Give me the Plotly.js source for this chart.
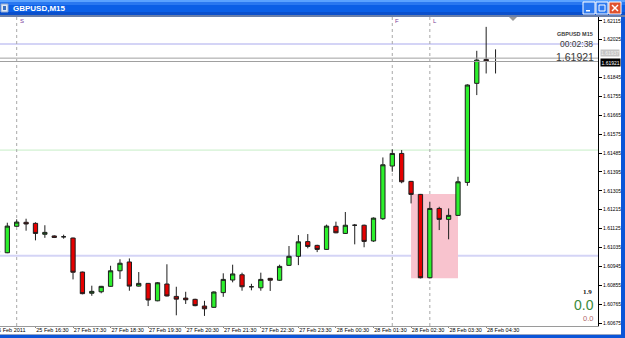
<!DOCTYPE html>
<html>
<head>
<meta charset="utf-8">
<script src="https://cdn.plot.ly/plotly-3.0.1.min.js"></script>
<style>
html,body{margin:0;padding:0;background:#fff;overflow:hidden;}
#chart{width:625px;height:338px;}
</style>
</head>
<body>
<div id="chart"></div>
<script>
// ---- data ----
const symbolTitle = "GBPUSD,M15";
const times = [
 "25 Feb 15:30","25 Feb 15:45","25 Feb 16:00","25 Feb 16:15","25 Feb 16:30","25 Feb 16:45",
 "27 Feb 17:00","27 Feb 17:15","27 Feb 17:30","27 Feb 17:45","27 Feb 18:00","27 Feb 18:15",
 "27 Feb 18:30","27 Feb 18:45","27 Feb 19:00","27 Feb 19:15","27 Feb 19:30","27 Feb 19:45",
 "27 Feb 20:00","27 Feb 20:15","27 Feb 20:30","27 Feb 20:45","27 Feb 21:00","27 Feb 21:15",
 "27 Feb 21:30","27 Feb 21:45","27 Feb 22:00","27 Feb 22:15","27 Feb 22:30","27 Feb 22:45",
 "27 Feb 23:00","27 Feb 23:15","27 Feb 23:30","27 Feb 23:45","28 Feb 00:00","28 Feb 00:15",
 "28 Feb 00:30","28 Feb 00:45","28 Feb 01:00","28 Feb 01:15","28 Feb 01:30","28 Feb 01:45",
 "28 Feb 02:00","28 Feb 02:15","28 Feb 02:30","28 Feb 02:45","28 Feb 03:00","28 Feb 03:15",
 "28 Feb 03:30","28 Feb 03:45","28 Feb 04:00","28 Feb 04:15","28 Feb 04:30","28 Feb 04:45"
];
const open = [1.61015,1.61010,1.61136,1.61155,1.61150,1.61098,1.61090,1.61086,1.61080,1.60918,
 1.60817,1.60824,1.60850,1.60924,1.60966,1.60851,1.60864,1.60781,1.60861,1.60802,
 1.60794,1.60788,1.60756,1.60750,1.60820,1.60880,1.60905,1.60848,1.60843,1.60888,
 1.60879,1.60950,1.60993,1.61063,1.61045,1.61026,1.61136,1.61102,1.61141,1.61141,
 1.61066,1.61172,1.61423,1.61483,1.61350,1.61288,1.60891,1.61221,1.61169,1.61188,
 1.61345,1.61817,1.61931,1.61921];
const high = [1.61019,1.61153,1.61169,1.61172,1.61155,1.61141,1.61093,1.61096,1.61082,1.60920,
 1.60853,1.60852,1.60948,1.60979,1.60983,1.60918,1.60866,1.60870,1.60955,1.60848,
 1.60824,1.60791,1.60781,1.60826,1.60912,1.60953,1.60915,1.60862,1.60915,1.60890,
 1.60953,1.61042,1.61094,1.61099,1.61048,1.61144,1.61158,1.61204,1.61147,1.61144,
 1.61178,1.61464,1.61502,1.61499,1.61352,1.61290,1.61253,1.61229,1.61221,1.61372,
 1.61812,1.61972,1.62086,1.61979];
const low = [1.61011,1.61008,1.61134,1.61115,1.61069,1.61081,1.61080,1.61077,1.60883,1.60812,
 1.60805,1.60817,1.60848,1.60885,1.60829,1.60849,1.60756,1.60779,1.60802,1.60712,
 1.60766,1.60755,1.60709,1.60747,1.60800,1.60869,1.60829,1.60831,1.60829,1.60828,
 1.60876,1.60947,1.60951,1.61031,1.61013,1.61024,1.61103,1.61100,1.61050,1.61036,
 1.61062,1.61166,1.61396,1.61341,1.61245,1.60888,1.60888,1.61118,1.61074,1.61185,
 1.61329,1.61761,1.61864,1.61864];
const close = [1.61015,1.61137,1.61156,1.61147,1.61102,1.61107,1.61083,1.61086,1.60917,1.60815,
 1.60826,1.60850,1.60924,1.60960,1.60851,1.60864,1.60785,1.60867,1.60804,1.60789,
 1.60786,1.60758,1.60743,1.60823,1.60883,1.60909,1.60848,1.60848,1.60883,1.60879,
 1.60945,1.60993,1.61062,1.61040,1.61026,1.61137,1.61105,1.61141,1.61141,1.61064,
 1.61175,1.61429,1.61483,1.61348,1.61288,1.60891,1.61221,1.61169,1.61188,1.61348,
 1.61809,1.61928,1.61922,1.61921];

const xTickTimes = ["25 Feb 16:30","27 Feb 17:30","27 Feb 18:30","27 Feb 19:30","27 Feb 20:30",
 "27 Feb 21:30","27 Feb 22:30","27 Feb 23:30","28 Feb 00:30","28 Feb 01:30","28 Feb 02:30",
 "28 Feb 03:30","28 Feb 04:30"];
const firstDateLabel = "25 Feb 2011";
// the 1.61935 label is hidden behind the bid/ask price boxes in the reference
const priceTicks = [1.62115,1.62025,1.61845,1.61755,1.61665,1.61575,1.61485,1.61395,
 1.61305,1.61215,1.61125,1.61035,1.60945,1.60855,1.60765,1.60675];
const separatorTimes = ["25 Feb 16:00","28 Feb 02:00","28 Feb 03:00"];
const separatorLabels = ["S","F","L"];
const lavenderLevels = [1.62004, 1.60996];
const greenLevels = [1.61499];
const bidPrice = 1.61921;
const askPrice = 1.61937;
const zoneTimes = ["28 Feb 02:30","28 Feb 03:45"];
const zonePrices = [1.60888, 1.61290];
const timerText = "00:02:38";
const infoName = "GBPUSD M15";
const spreadText = "1.9";
const bigValue = "0.0";
const smallValue = "0.0";

// ---- helpers ----
const W = 625, H = 338, ML = 0, MR = 27, MT = 17, MB = 12;
const PW = W - ML - MR, PH = H - MT - MB;
const px = x => (x - ML) / PW;
const py = y => (H - MB - y) / PH;
const idx = t => times.indexOf(t);

const shapes = [];
const annotations = [];

// pink zone
shapes.push({type:'rect', xref:'x', yref:'y', layer:'below',
  x0: idx(zoneTimes[0]), x1: idx(zoneTimes[1]), y0: zonePrices[0], y1: zonePrices[1],
  fillcolor:'#f8c3ce', line:{width:0}});
// horizontal levels
lavenderLevels.forEach(v => shapes.push({type:'line', xref:'paper', yref:'y', layer:'below',
  x0:0, x1:1, y0:v, y1:v, line:{color:'#d4d4f6', width:2}}));
greenLevels.forEach(v => shapes.push({type:'line', xref:'paper', yref:'y', layer:'below',
  x0:0, x1:1, y0:v, y1:v, line:{color:'#c6eec6', width:1}}));
// separators
separatorTimes.forEach((t,i) => {
  shapes.push({type:'line', xref:'x', yref:'paper', layer:'below',
    x0: idx(t), x1: idx(t), y0:0, y1:1, line:{color:'#a8a8a8', width:1, dash:'dot'}});
  annotations.push({xref:'x', yref:'paper', x: idx(t), y: py(21), xanchor:'left', yanchor:'middle',
    xshift:1, text: separatorLabels[i], showarrow:false,
    font:{family:'Liberation Sans', size:6, color:'#7a3a9a'}});
});
// bid / ask lines
[askPrice, bidPrice].forEach(v => shapes.push({type:'line', xref:'paper', yref:'y',
  x0:0, x1:1, y0:v, y1:v, line:{color:'#a0a0a0', width:1}}));
// shift triangle
shapes.push({type:'path', xref:'paper', yref:'paper',
  path:`M ${px(509)} ${py(17)} L ${px(517)} ${py(17)} L ${px(513)} ${py(21)} Z`,
  fillcolor:'#9a9a9a', line:{width:0}});

// window chrome: title bar bands
const bands = [[0,2,'#5aa2ff'],[2,5,'#2a78f0'],[5,12,'#0b5fe6'],[12,15,'#0a4fcc'],[15,17,'#6b7fa8']];
bands.forEach(b => shapes.push({type:'rect', xref:'paper', yref:'paper',
  x0:px(0), x1:px(625), y0:py(b[1]), y1:py(b[0]), fillcolor:b[2], line:{width:0}}));
// right + bottom borders (drawn below the axis labels)
shapes.push({type:'rect', xref:'paper', yref:'paper', layer:'below', x0:px(621), x1:px(625), y0:py(338), y1:py(0),
  fillcolor:'#0b55d8', line:{width:0}});
shapes.push({type:'rect', xref:'paper', yref:'paper', layer:'below', x0:px(0), x1:px(625), y0:py(338), y1:py(335),
  fillcolor:'#0b55d8', line:{width:0}});
shapes.push({type:'line', xref:'paper', yref:'paper', layer:'below', x0:px(0), x1:px(621), y0:py(334.5), y1:py(334.5),
  line:{color:'#9aa6c4', width:1}});
// icon
shapes.push({type:'rect', xref:'paper', yref:'paper', x0:px(1), x1:px(8), y0:py(12), y1:py(4),
  fillcolor:'#dfe8f5', line:{color:'#8fa8d0', width:1}});
shapes.push({type:'rect', xref:'paper', yref:'paper', x0:px(3), x1:px(6), y0:py(10), y1:py(6),
  fillcolor:'#3a70c0', line:{width:0}});
// buttons
const btns = [[583,'#2f7bf0','min'],[596,'#2f7bf0','max'],[609,'#e0522e','close']];
btns.forEach(b => {
  shapes.push({type:'rect', xref:'paper', yref:'paper', x0:px(b[0]), x1:px(b[0]+12),
    y0:py(14), y1:py(2), fillcolor:b[1], line:{color:'#ffffff', width:1}});
  if (b[2]==='min') shapes.push({type:'rect', xref:'paper', yref:'paper', x0:px(b[0]+3), x1:px(b[0]+7),
    y0:py(11.5), y1:py(10), fillcolor:'#fff', line:{width:0}});
  if (b[2]==='max') shapes.push({type:'rect', xref:'paper', yref:'paper', x0:px(b[0]+3), x1:px(b[0]+9),
    y0:py(11), y1:py(5), fillcolor:'rgba(0,0,0,0)', line:{color:'#fff', width:1}});
  if (b[2]==='close') {
    shapes.push({type:'line', xref:'paper', yref:'paper', x0:px(b[0]+3), x1:px(b[0]+9), y0:py(5), y1:py(11), line:{color:'#fff', width:1.5}});
    shapes.push({type:'line', xref:'paper', yref:'paper', x0:px(b[0]+3), x1:px(b[0]+9), y0:py(11), y1:py(5), line:{color:'#fff', width:1.5}});
  }
});

// title text
annotations.push({xref:'paper', yref:'paper', x:px(11), y:py(8), xanchor:'left', yanchor:'middle',
  text:'<b>'+symbolTitle+'</b>', showarrow:false, font:{family:'Liberation Sans', size:8, color:'#ffffff'}});
// first date label (cut at left edge, as in the reference)
annotations.push({xref:'paper', yref:'paper', x:px(27), y:py(330), xanchor:'right', yanchor:'middle',
  text:firstDateLabel, showarrow:false, font:{family:'Liberation Sans', size:5.5, color:'#000'}});
// info texts
annotations.push({xref:'paper', yref:'paper', x:px(595), y:py(34), xanchor:'right', yanchor:'middle',
  text:'<b>'+infoName+'</b>', showarrow:false, font:{family:'Liberation Sans', size:5.5, color:'#3a3a3a'}});
annotations.push({xref:'paper', yref:'paper', x:px(595), y:py(44), xanchor:'right', yanchor:'middle',
  text:timerText, showarrow:false, font:{family:'Liberation Sans', size:8.5, color:'#3a3a3a'}});
annotations.push({xref:'paper', yref:'y', x:px(596), y:bidPrice, yshift:5, xanchor:'right', yanchor:'middle',
  text:bidPrice.toFixed(5), showarrow:false, font:{family:'Liberation Sans', size:10.5, color:'#3a3a3a'}});
// axis price boxes
annotations.push({xref:'paper', yref:'y', x:px(600), y:askPrice, yshift:5, xanchor:'left', yanchor:'middle',
  text:askPrice.toFixed(5), showarrow:false, bgcolor:'#c4c4c4', borderpad:0,
  font:{family:'Liberation Sans', size:5, color:'#f0f0f0'}});
annotations.push({xref:'paper', yref:'y', x:px(600), y:bidPrice, yshift:-1, xanchor:'left', yanchor:'middle',
  text:bidPrice.toFixed(5), showarrow:false, bgcolor:'#000000', borderpad:0.5,
  font:{family:'Liberation Sans', size:5, color:'#ffffff'}});
// bottom-right values
annotations.push({xref:'paper', yref:'paper', x:px(594), y:py(291.5), xanchor:'right', yanchor:'middle',
  text:'<b>'+spreadText+'</b>', showarrow:false, font:{family:'Liberation Serif', size:7, color:'#111'}});
annotations.push({xref:'paper', yref:'paper', x:px(596), y:py(305), xanchor:'right', yanchor:'middle',
  text:bigValue, showarrow:false, font:{family:'Liberation Sans', size:14, color:'#3b8a3b'}});
annotations.push({xref:'paper', yref:'paper', x:px(595), y:py(318.5), xanchor:'right', yanchor:'middle',
  text:smallValue, showarrow:false, font:{family:'Liberation Sans', size:7.5, color:'#b06a6a'}});

const trace = {
  type:'candlestick', x: times, open: open, high: high, low: low, close: close,
  increasing:{fillcolor:'#2cf02c', line:{color:'#1e1e1e', width:1}},
  decreasing:{fillcolor:'#e50000', line:{color:'#1e1e1e', width:1}},
  whiskerwidth:0, hoverinfo:'skip', showlegend:false
};

const layout = {
  width: W, height: H,
  margin:{l:ML, r:MR, t:MT, b:MB, pad:0},
  paper_bgcolor:'#ffffff', plot_bgcolor:'#ffffff',
  showlegend:false,
  boxgap:0.35,
  xaxis:{type:'category', range:[0.2226, 63.91], rangeslider:{visible:false},
    tickvals: xTickTimes, ticks:'outside', ticklen:1, tickcolor:'#888',
    showgrid:false, zeroline:false, showline:true, linecolor:'#9a9a9a', linewidth:1,
    ticklabelshift:17, ticklabelstandoff:-3,
    tickfont:{family:'Liberation Sans', size:5.5, color:'#000'}, fixedrange:true},
  yaxis:{side:'right', range:[1.60661, 1.62133], tickvals: priceTicks, tickformat:'.5f',
    ticks:'outside', ticklen:3, tickcolor:'#000', showgrid:false, zeroline:false,
    showline:true, linecolor:'#000', linewidth:1, ticklabelstandoff:0,
    tickfont:{family:'Liberation Sans', size:5, color:'#000'}, fixedrange:true},
  shapes: shapes,
  annotations: annotations
};

Plotly.newPlot('chart', [trace], layout, {displayModeBar:false, staticPlot:true});
</script>
</body>
</html>
